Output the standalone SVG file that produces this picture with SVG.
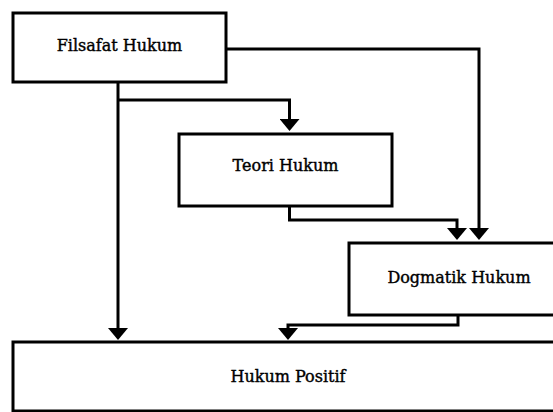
<svg xmlns="http://www.w3.org/2000/svg" width="553" height="412" viewBox="0 0 553 412">
<style>
.box{fill:#fff;stroke:#000;stroke-width:3}
.lbl{font-family:"DejaVu Serif","Liberation Serif",serif;font-size:16px;fill:#000;stroke:#000;stroke-width:0.4;text-anchor:middle}
.con{fill:none;stroke:#000;stroke-width:3;marker-end:url(#ah)}
</style>
<defs>
<marker id="ah" markerUnits="userSpaceOnUse" viewBox="0 0 12 20" markerWidth="12" markerHeight="20" refX="8" refY="10" orient="auto">
<path d="M0,0 L12,10 L0,20 z" fill="#000"/>
</marker>
</defs>
<rect width="553" height="412" fill="#fff"/>
<g id="connectors">
<path class="con" d="M226,49 H479 V236"/>
<path class="con" d="M118,82 V336"/>
<path class="con" d="M118,100 H289.5 V127"/>
<path class="con" d="M289.5,206 V220 H457 V236"/>
<path class="con" d="M458,315 V325 H288 V336"/>
</g>
<g id="filsafat">
<rect class="box" x="13" y="13" width="213" height="69"/>
<text class="lbl" x="119.5" y="51">Filsafat Hukum</text>
</g>
<g id="teori">
<rect class="box" x="179" y="134" width="213" height="72"/>
<text class="lbl" x="285.5" y="171">Teori Hukum</text>
</g>
<g id="dogmatik">
<rect class="box" x="349" y="243" width="230" height="72"/>
<text class="lbl" x="459" y="283">Dogmatik Hukum</text>
</g>
<g id="positif">
<rect class="box" x="13" y="342" width="560" height="69"/>
<text class="lbl" x="288" y="382">Hukum Positif</text>
</g>
</svg>
